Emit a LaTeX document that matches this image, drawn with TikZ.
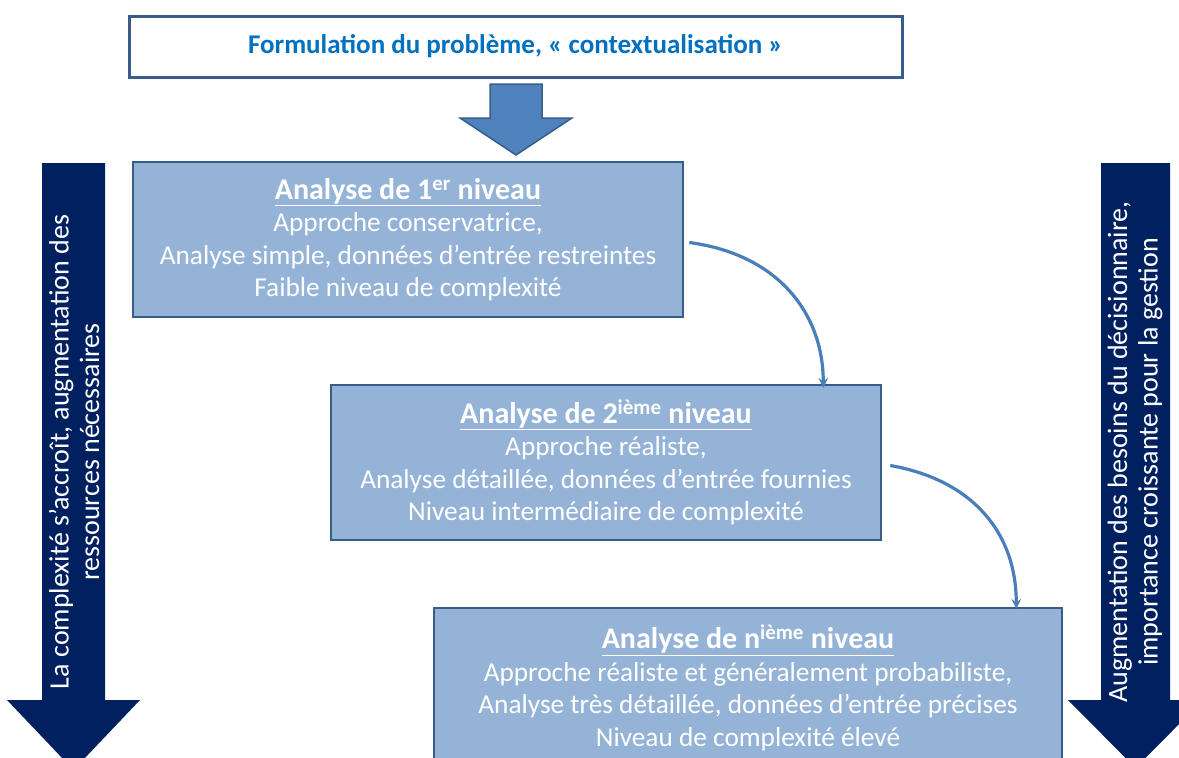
\documentclass[tikz,border=0pt]{standalone}
\usepackage{fontspec}
\setmainfont{Carlito}
\usepackage{tikz}
\tikzset{>=stealth}
\definecolor{boxfill}{HTML}{95B3D7}
\definecolor{boxline}{HTML}{385D8A}
\definecolor{titleblue}{HTML}{0070C0}
\definecolor{arrowblue}{HTML}{4F81BD}
\definecolor{curveblue}{HTML}{4A7EBB}
\definecolor{navy}{RGB}{0,32,96}
\newcommand{\niveautitre}[1]{{\fontsize{30}{34}\selectfont\bfseries\underline{#1}}}
\tikzset{
  niveau/.style={draw=boxline, line width=2.5pt, fill=boxfill, text=white, align=center,
    inner sep=0pt, font=\fontsize{27.3}{32.5}\selectfont},
  sidetext/.style={text=white, align=center, rotate=90, inner sep=0pt,
    font=\fontsize{28}{30.5}\selectfont},
  suite/.style={->, draw=curveblue, line width=3.2pt, shorten >=2pt}
}

\begin{document}
\begin{tikzpicture}[x=1pt,y=-1pt]
                \useasboundingbox (0,0) rectangle (1179,758);
                \clip (0,0) rectangle (1179,758);
                % probleme
                \node[draw=boxline, line width=3pt, fill=white, minimum width=773pt, minimum height=61pt,
                      inner sep=0pt, text=titleblue, font=\fontsize{27}{32}\selectfont\bfseries]
                    (probleme) at (515.5,46.5) {Formulation du problème, « contextualisation »};
                \draw[draw=boxline, line width=1.5pt, fill=arrowblue]
                    (490,84) -- (542,84) -- (542,118) -- (572,118) -- (516,155)
                    -- (460,118) -- (490,118) -- cycle;
                % les trois niveaux
                \node[niveau, minimum width=550pt, minimum height=155pt] (niv1) at (408,239.5)
                    {\niveautitre{Analyse de 1\textsuperscript{er} niveau}\\
                     Approche conservatrice,\\
                     Analyse simple, données d’entrée restreintes\\
                     Faible niveau de complexité};
                \node[niveau, minimum width=550pt, minimum height=155pt] (niv2) at (606,462.5)
                    {\niveautitre{Analyse de 2\textsuperscript{ième} niveau}\\
                     Approche réaliste,\\
                     Analyse détaillée, données d’entrée fournies\\
                     Niveau intermédiaire de complexité};
                \node[niveau, minimum width=628pt, minimum height=160pt] (niv3) at (748,688)
                    {\niveautitre{Analyse de n\textsuperscript{ième} niveau}\\
                     Approche réaliste et généralement probabiliste,\\
                     Analyse très détaillée, données d’entrée précises\\
                     Niveau de complexité élevé};
                \draw[suite] ([xshift=5pt,yshift=-3pt]niv1.east) .. controls +(90,12) and +(0,-75) .. ([xshift=-59pt,yshift=-6pt]niv2.north east);
                \draw[suite] ([xshift=8pt,yshift=-3pt]niv2.east) .. controls +(80,14) and +(0,-80) .. ([xshift=-47pt,yshift=-4pt]niv3.north east);
                % fleches laterales
                \fill[navy] (42,163) -- (105,163) -- (105,700) -- (140,700) -- (73.5,770)
                    -- (7,700) -- (42,700) -- cycle;
                \fill[navy] (1101,163) -- (1170,163) -- (1170,700) -- (1203,700) -- (1135.5,768)
                    -- (1068,700) -- (1101,700) -- cycle;
                \node[sidetext] (complexite) at (74,452)
                    {La complexité s’accroît, augmentation des\\ ressources nécessaires};
                \node[sidetext] (besoins) at (1135,452)
                    {Augmentation des besoins du décisionnaire,\\ importance croissante pour la gestion};
    \end{tikzpicture}
\end{document}
